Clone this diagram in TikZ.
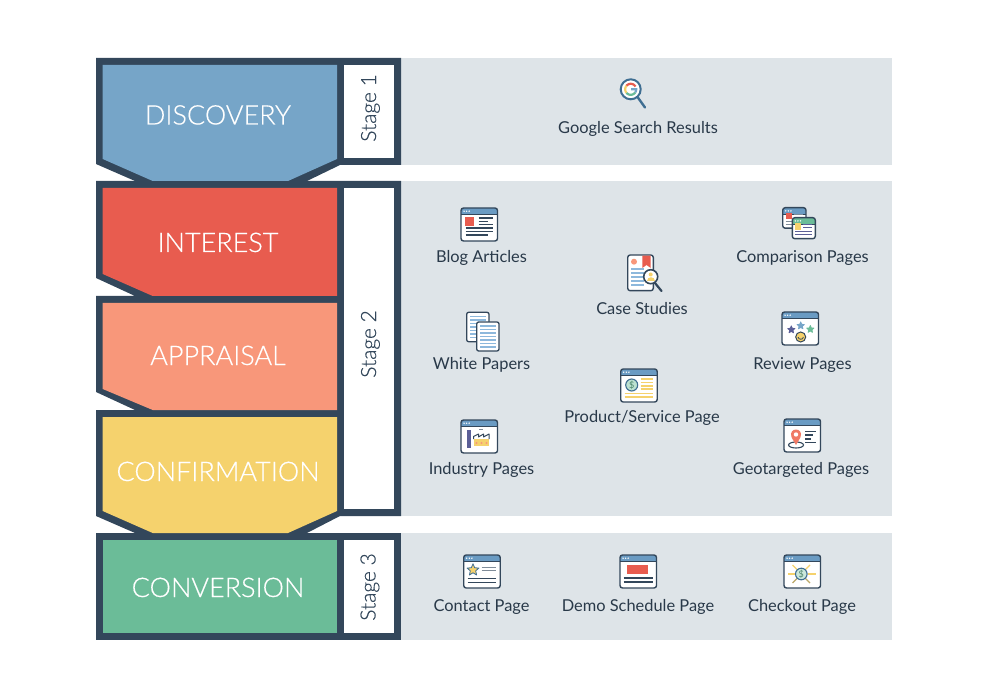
\documentclass[tikz,border=0pt]{standalone}
\usepackage{fontspec}
\setmainfont{Lato}
\newfontfamily\latolight{Lato Light}[RawFeature={embolden=0.35}]
\definecolor{navy}{HTML}{33475B}
\definecolor{panel}{HTML}{DEE4E8}
\definecolor{cblue}{HTML}{76A5C8}
\definecolor{cred}{HTML}{E85C4F}
\definecolor{csalmon}{HTML}{F8977A}
\definecolor{cyellow}{HTML}{F5D26D}
\definecolor{cgreen}{HTML}{6BBC98}
\definecolor{hdr}{HTML}{6A9BC3}
\definecolor{lblue}{HTML}{8DB8DC}
\definecolor{cpurple}{HTML}{5B5F97}
\definecolor{lgray}{HTML}{7F8C99}
\definecolor{lens}{HTML}{3F6E92}
\tikzset{
  x=1pt,y=-1pt,
  stagelabel/.style={font=\latolight\fontsize{27}{30}\selectfont,text=white,inner sep=0pt,anchor=base},
  stagetag/.style={font=\latolight\fontsize{21}{24}\selectfont,text=navy,inner sep=0pt,rotate=90,anchor=base},
  captext/.style={font=\fontsize{16.4}{19}\selectfont,text=navy!80!black,inner sep=0pt,anchor=base},
  framefill/.style={fill=navy},
  whitebox/.style={fill=white},
  winframe/.style={draw=navy,line width=1.4pt,rounded corners=2.5pt},
}
\newcommand{\winbox}[5]{%
  \begin{scope}[shift={(#1,#2)}]
    \fill[white,rounded corners=2.5pt] (0,0) rectangle (#3,#4);
    \fill[#5,rounded corners=2.5pt] (0,0) rectangle (#3,6.5);
    \fill[#5] (0,3) rectangle (#3,6.5);
    \draw[winframe] (0,0) rectangle (#3,#4);
    \draw[navy,line width=1pt] (0,6.5) -- (#3,6.5);
    \fill[white] (3,3.2) circle (.8) (5.6,3.2) circle (.8) (8.2,3.2) circle (.8);
  \end{scope}}
\newcommand{\mystar}[5]{% x y r colour outline
  \filldraw[fill=#4,draw=#5,line width=.8pt,line join=round,shift={(#1,#2)}]
    (-90:#3) -- (-54:0.45*#3) -- (-18:#3) -- (18:0.45*#3) -- (54:#3) -- (90:0.45*#3)
    -- (126:#3) -- (162:0.45*#3) -- (198:#3) -- (234:0.45*#3) -- cycle;}
\newcommand{\hl}[4]{\draw[line width=1.1pt,#4] (#1,#3) -- (#2,#3);}
\begin{document}
\begin{tikzpicture}
\useasboundingbox (0,0) rectangle (990,700);
\fill[white] (0,0) rectangle (990,700);
% panels
\fill[panel] (401,58) rectangle (892,165);
\fill[panel] (401,181) rectangle (892,516);
\fill[panel] (401,533) rectangle (892,640);
% dark frames
\fill[framefill] (96,58) -- (401,58) -- (401,165) -- (340,165) -- (307,181) -- (135,181) -- (96,164) -- cycle;
\fill[framefill] (96,181) -- (401,181) -- (401,516) -- (340,516) -- (307,533) -- (135,533) -- (96,516) -- (96,410) -- (135,410) -- (96,392) -- (96,296) -- (135,296) -- (96,278) -- cycle;
\fill[framefill] (96,533) rectangle (401,640);
% white tags
\fill[whitebox] (344,65) rectangle (394,158);
\fill[whitebox] (344,188) rectangle (394,509);
\fill[whitebox] (344,540) rectangle (394,633);
% coloured stages
\fill[cblue] (102.7,65) -- (337,65) -- (337,159) -- (288,181) -- (152.7,181) -- (102.7,159) -- cycle;
\fill[cred] (102.7,188) -- (337,188) -- (337,296) -- (152.7,296) -- (102.7,274) -- cycle;
\fill[csalmon] (102.7,303) -- (337,303) -- (337,410) -- (152.7,410) -- (102.7,389) -- cycle;
\fill[cyellow] (102.7,417) -- (337,417) -- (337,511) -- (288,533) -- (152.7,533) -- (102.7,511) -- cycle;
\fill[cgreen] (102.7,540) rectangle (337,633);
% stage labels
\node[stagelabel] (discovery) at (218,124.5) {DISCOVERY};
\node[stagelabel] (interest) at (218,252) {INTEREST};
\node[stagelabel] (appraisal) at (218,365) {APPRAISAL};
\node[stagelabel] (confirmation) at (218,481) {CONFIRMATION};
\node[stagelabel] (conversion) at (218,597) {CONVERSION};
\node[stagetag] (stage1) at (376,108) {Stage 1};
\node[stagetag] (stage2) at (376,344) {Stage 2};
\node[stagetag] (stage3) at (375.5,587) {Stage 3};
% captions
\node[captext] (google) at (638,134) {Google Search Results};
\node[captext] (blog) at (481.5,262.5) {Blog Articles};
\node[captext] (case) at (642,314.5) {Case Studies};
\node[captext] (comparison) at (802.5,262.5) {Comparison Pages};
\node[captext] (white) at (481.5,370) {White Papers};
\node[captext] (review) at (802.5,370) {Review Pages};
\node[captext] (product) at (642,422) {Product/Service Page};
\node[captext] (industry) at (481.5,474) {Industry Pages};
\node[captext] (geo) at (801,474) {Geotargeted Pages};
\node[captext] (contact) at (481.5,611) {Contact Page};
\node[captext] (demo) at (638,611) {Demo Schedule Page};
\node[captext] (checkout) at (802,611) {Checkout Page};
% google icon
\draw[lens,line width=2.4pt,line cap=round] (637.5,97) -- (645,107.5);
\filldraw[fill=white,draw=lens,line width=2pt] (630.7,89.3) circle (10);
\begin{scope}[shift={(630.7,89.3)},line width=2.2pt]
  \draw[cred] plot[domain=-30:-140,samples=14] ({5.5*cos(\x)},{5.5*sin(\x)});
  \draw[cyellow] plot[domain=140:220,samples=10] ({5.5*cos(\x)},{5.5*sin(\x)});
  \draw[cgreen] plot[domain=35:140,samples=14] ({5.5*cos(\x)},{5.5*sin(\x)});
  \draw[cblue] plot[domain=35:0,samples=6] ({5.5*cos(\x)},{5.5*sin(\x)}) -- (0.5,0);
\end{scope}
% blog
\winbox{461}{208}{36.5}{33}{hdr}
\begin{scope}[shift={(461,208)}]
  \fill[cred] (4.3,8.7) rectangle (13.3,18);
  \hl{17.5}{32}{10}{navy}\hl{17.5}{27}{13.3}{navy}\hl{17.5}{32}{16.7}{navy}
  \hl{4.5}{32}{20}{navy}\hl{4.5}{32}{23.3}{navy}\hl{4.5}{27}{27}{navy}
\end{scope}
% comparison
\winbox{782.7}{207.7}{23.3}{20.5}{hdr}
\begin{scope}[shift={(782.7,207.7)}]
  \fill[cred] (3,5.8) rectangle (9,11.5);
  \hl{11}{20}{7}{lgray}\hl{11}{18}{9.5}{lgray}\hl{3}{9}{14}{lgray}\hl{3}{9}{17}{lgray}
\end{scope}
\winbox{792.3}{217.7}{23}{21}{cgreen}
\begin{scope}[shift={(792.3,217.7)}]
  \fill[cyellow] (2.5,5.5) rectangle (9,12);
  \hl{11}{20}{7}{cpurple}\hl{11}{20}{10}{cpurple}\hl{2.5}{20}{13.5}{cpurple}\hl{2.5}{20}{16.5}{cpurple}
\end{scope}
% case studies
\filldraw[fill=white,draw=navy,line width=1.4pt,rounded corners=2.5pt] (627.7,255) rectangle (653.3,290.7);
\fill[cred] (642.3,255.7) -- (650.7,255.7) -- (650.7,268) -- (646.5,265) -- (642.3,268) -- cycle;
\fill[csalmon] (634,261.7) circle (3);
\foreach \yy in {269,273,277,281,285} \draw[lblue,line width=1.1pt] (631,\yy) -- (644,\yy);
\draw[navy,line width=2.2pt,line cap=round] (655,283) -- (661.5,291);
\filldraw[fill=white,draw=navy,line width=1.6pt] (650.7,276.7) circle (7);
\fill[cyellow] (650.7,274.5) circle (2);
\fill[cyellow] (646.7,281) .. controls (646.7,276.5) and (654.7,276.5) .. (654.7,281) -- cycle;
% white papers
\filldraw[fill=white,draw=navy,line width=1.3pt,rounded corners=2pt] (466.7,312.3) rectangle (489,341.7);
\foreach \yy in {316.5,320,323.5,327,330.5,334,337.5} \draw[lblue,line width=1.1pt] (470,\yy) -- (486,\yy);
\filldraw[fill=white,draw=navy,line width=1.3pt,rounded corners=2pt] (476.7,322) rectangle (499,351);
\foreach \yy in {326,329.5,333,336.5,340,343.5,347} \draw[lblue,line width=1.1pt] (480,\yy) -- (496,\yy);
% product
\winbox{620.7}{369}{36.5}{33}{hdr}
\begin{scope}[shift={(620.7,369)}]
  \filldraw[fill=cgreen!45!white,draw=lens,line width=1.1pt] (11,16) circle (6);
  \node[font=\fontsize{9}{9}\selectfont,text=cgreen!70!black,inner sep=0pt] (prodDollar) at (11,16) {\$};
  \hl{20}{32}{10}{cyellow}\hl{20}{32}{13.3}{cyellow}\hl{20}{32}{17}{cyellow}\hl{20}{32}{20}{cyellow}
  \hl{4}{32}{24.3}{cyellow}\hl{4}{32}{28}{cyellow}
\end{scope}
% industry
\winbox{461}{420}{36.5}{33}{hdr}
\begin{scope}[shift={(461,420)}]
  \fill[cpurple] (6,10) rectangle (10,28);
  \fill[cyellow] (12.5,19) rectangle (28,26);
  \draw[navy,line width=1pt,line join=round] (12.5,19) -- (12.5,16.5) -- (17.5,14) -- (17.5,17) -- (22.5,14) -- (22.5,17) -- (28,14) -- (28,19);
  \fill[csalmon] (15.5,23) circle (1.1) (20.5,23) circle (1.1) (25.5,23) circle (1.1);
  \hl{18}{22}{9.5}{lgray}
\end{scope}
% review
\winbox{782}{312}{36.5}{33}{hdr}
\begin{scope}[shift={(782,312)}]
  \mystar{9.3}{17.7}{3.8}{cpurple}{cpurple}
  \mystar{18.7}{13.7}{3.8}{cblue}{cblue}
  \mystar{28.3}{17.3}{3.8}{cgreen}{cgreen}
  \filldraw[fill=cyellow,draw=navy,line width=1pt] (18.7,25) circle (5);
  \draw[navy,line width=.8pt] (16,25) .. controls (16.5,28) and (21,28) .. (21.4,25);
\end{scope}
% geotargeted
\winbox{784}{419}{36.5}{33}{hdr}
\begin{scope}[shift={(784,419)}]
  \draw[navy,line width=1.1pt] (12,26) ellipse (7.5 and 3);
  \fill[csalmon!50!cred] (12,26) -- (7.6,18.5) .. controls (5.5,13) and (9,10.5) .. (12,10.5) .. controls (15,10.5) and (18.5,13) .. (16.4,18.5) -- cycle;
  \fill[white] (12,15.5) circle (2.2);
  \hl{21}{32}{12.7}{navy}\hl{21}{29}{16}{navy}\hl{21}{27}{20}{navy}\hl{21}{32}{23.5}{navy}
\end{scope}
% contact
\winbox{463.7}{555}{36.5}{33}{hdr}
\begin{scope}[shift={(463.7,555)}]
  \mystar{9.3}{15}{6.2}{cyellow}{lens}
  \hl{18}{32}{12.7}{lgray}\hl{18}{32}{15.7}{lgray}
  \hl{4}{32}{23.7}{navy}\hl{4}{32}{27.3}{navy}
\end{scope}
% demo
\winbox{620}{555}{36.5}{33}{hdr}
\begin{scope}[shift={(620,555)}]
  \fill[cred] (7.3,9.7) rectangle (28.3,19);
  \hl{3.5}{33}{23}{navy}\hl{3.5}{33}{27}{navy}
\end{scope}
% checkout
\winbox{784}{555}{36.5}{33}{hdr}
\begin{scope}[shift={(784,555)}]
  \hl{4}{11}{19}{cyellow}\hl{24}{32}{19}{cyellow}
  \draw[cyellow,line width=1.1pt] (8.5,10) -- (13,14.5) (26,10) -- (21.5,14.5);
  \draw[cyellow!70!navy,line width=1.1pt] (8.5,28) -- (13,23.5) (26,28) -- (21.5,23.5);
  \filldraw[fill=cgreen!35!white,draw=lens,line width=1.1pt] (17.3,19) circle (5.8);
  \node[font=\fontsize{9}{9}\selectfont,text=cgreen!70!black,inner sep=0pt] (chkDollar) at (17.3,19) {\$};
\end{scope}
\end{tikzpicture}
\end{document}
